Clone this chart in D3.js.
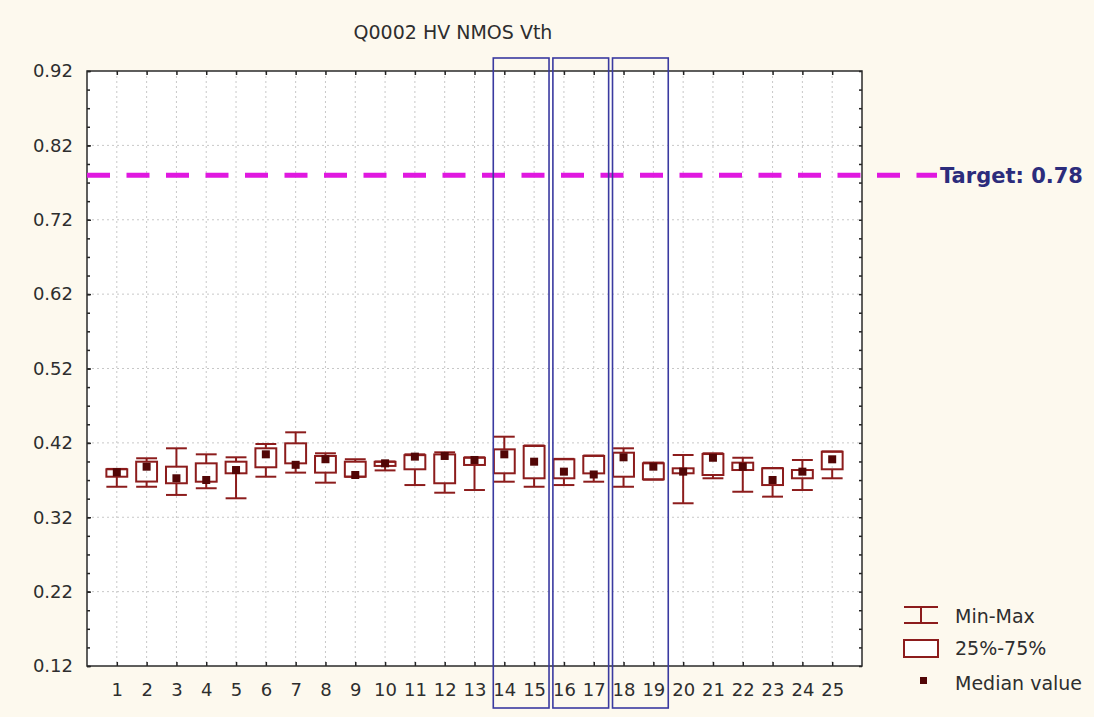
<!DOCTYPE html>
<html>
<head>
<meta charset="utf-8">
<script src="https://cdn.jsdelivr.net/npm/d3@7"></script>
<style>
  html, body { margin: 0; padding: 0; background: #fdf9ee; }
  svg { display: block; }
  .tick text { font-family: "DejaVu Sans", sans-serif; fill: #2e2e2e; }
</style>
</head>
<body>
<svg id="chart" width="1094" height="717"></svg>
<script>
// Wafer sites along the x axis
const sites = d3.range(1, 26);

// Box statistics per site (V)
const minVals    = [0.361, 0.361, 0.350, 0.359, 0.3455, 0.3745, 0.380, 0.3665, 0.3745, 0.383, 0.3633, 0.353, 0.3566, 0.3678, 0.361, 0.3633, 0.3678, 0.361, 0.3705, 0.3388, 0.3724, 0.3543, 0.3477, 0.3566, 0.3724];
const q1Vals     = [0.3745, 0.368, 0.3657, 0.3678, 0.3791, 0.3872, 0.3925, 0.380, 0.3745, 0.389, 0.3845, 0.3657, 0.3903, 0.3791, 0.3724, 0.3724, 0.379, 0.3745, 0.371, 0.3791, 0.3768, 0.3835, 0.3633, 0.3724, 0.3845];
const medianVals = [0.3805, 0.388, 0.3724, 0.3701, 0.3835, 0.4046, 0.3905, 0.398, 0.3768, 0.3925, 0.4015, 0.4024, 0.397, 0.4046, 0.3947, 0.3813, 0.3775, 0.4006, 0.388, 0.3813, 0.400, 0.388, 0.3701, 0.3813, 0.3979];
const q3Vals     = [0.3845, 0.3947, 0.388, 0.3925, 0.3947, 0.4127, 0.4194, 0.4024, 0.3947, 0.3945, 0.4035, 0.4045, 0.400, 0.4113, 0.4158, 0.3979, 0.4024, 0.4068, 0.3925, 0.3858, 0.405, 0.3934, 0.3858, 0.3835, 0.4081];
const maxVals    = [0.385, 0.3993, 0.4127, 0.4046, 0.4006, 0.4185, 0.4342, 0.406, 0.398, 0.395, 0.4046, 0.4073, 0.4006, 0.4283, 0.4165, 0.3985, 0.403, 0.4127, 0.3935, 0.4037, 0.406, 0.400, 0.3862, 0.397, 0.4085];

// Y axis tick labels
const yTicks = [0.12, 0.22, 0.32, 0.42, 0.52, 0.62, 0.72, 0.82, 0.92];
const yMinorTicks = d3.range(0, 33).map(i => +(0.12 + i * 0.025).toFixed(3));

// Target specification
const targetValue = 0.78;
const targetLabel = "Target: 0.78";

// Highlighted site pairs
const highlightPairs = [[14, 15], [16, 17], [18, 19]];

const title = "Q0002 HV NMOS Vth";
const legendItems = ["Min-Max", "25%-75%", "Median value"];

const boxColor = "#8c1c1c";
const medianColor = "#520606";
const font = "'DejaVu Sans', sans-serif";

const svg = d3.select("#chart");
const plot = { left: 87, right: 862, top: 71, bottom: 666 };

const x = d3.scaleLinear().domain([0, 26]).range([plot.left, plot.right]);
const y = d3.scaleLinear().domain([0.12, 0.92]).range([plot.bottom, plot.top]);
const step = x(1) - x(0);

// Plot background
svg.append("rect")
  .attr("x", plot.left).attr("y", plot.top)
  .attr("width", plot.right - plot.left).attr("height", plot.bottom - plot.top)
  .attr("fill", "#ffffff");

// Dotted grid
const grid = svg.append("g").attr("stroke", "#c8c8c8").attr("stroke-width", 1).attr("stroke-dasharray", "2,3");
grid.selectAll("line.v").data(sites).join("line")
  .attr("x1", d => x(d)).attr("x2", d => x(d))
  .attr("y1", plot.top).attr("y2", plot.bottom);
grid.selectAll("line.h").data(yTicks.slice(1, -1)).join("line")
  .attr("x1", plot.left).attr("x2", plot.right)
  .attr("y1", d => y(d)).attr("y2", d => y(d));

// Axes (ticks point inward)
const axisLeft = svg.append("g").attr("transform", `translate(${plot.left},0)`)
  .call(d3.axisLeft(y).tickValues(yTicks).tickFormat(d3.format(".2f")).tickSize(-4).tickPadding(14));
axisLeft.selectAll("text").style("font-size", "18px");
svg.append("g").attr("transform", `translate(${plot.left},0)`)
  .call(d3.axisLeft(y).tickValues(yMinorTicks).tickFormat("").tickSize(-3));
svg.append("g").attr("transform", `translate(${plot.right},0)`)
  .call(d3.axisRight(y).tickValues(yMinorTicks).tickFormat("").tickSize(-3));

const axisBottom = svg.append("g").attr("transform", `translate(0,${plot.bottom})`)
  .call(d3.axisBottom(x).tickValues(sites).tickFormat(d3.format("d")).tickSize(-4).tickPadding(17));
axisBottom.selectAll("text").style("font-size", "18px");
svg.append("g").attr("transform", `translate(0,${plot.top})`)
  .call(d3.axisTop(x).tickValues(sites).tickFormat("").tickSize(-4));

svg.selectAll(".domain").remove();
svg.selectAll(".tick line").attr("stroke", "#222").attr("stroke-width", 1.5);

// Plot frame
svg.append("rect")
  .attr("x", plot.left).attr("y", plot.top)
  .attr("width", plot.right - plot.left).attr("height", plot.bottom - plot.top)
  .attr("fill", "none").attr("stroke", "#2a2a2a").attr("stroke-width", 1.5);

// Target line
svg.append("line")
  .attr("x1", x(0)).attr("x2", 937)
  .attr("y1", y(targetValue)).attr("y2", y(targetValue))
  .attr("stroke", "#e018e0").attr("stroke-width", 5)
  .attr("stroke-dasharray", "23,16.5");
svg.append("text")
  .attr("x", 940).attr("y", y(targetValue)).attr("dy", "0.36em")
  .attr("font-family", font).attr("font-weight", "bold").attr("font-size", 21)
  .attr("fill", "#2c2c7c").text(targetLabel);

// Box plots
const boxes = sites.map((s, i) => ({
  site: s, min: minVals[i], q1: q1Vals[i], med: medianVals[i], q3: q3Vals[i], max: maxVals[i]
}));
const bw = step * 0.7;
const g = svg.append("g").attr("stroke", boxColor).attr("stroke-width", 2).attr("fill", "none");
const bg = g.selectAll("g").data(boxes).join("g");
bg.append("line").attr("x1", d => x(d.site)).attr("x2", d => x(d.site))
  .attr("y1", d => y(d.max)).attr("y2", d => y(d.q3));
bg.append("line").attr("x1", d => x(d.site)).attr("x2", d => x(d.site))
  .attr("y1", d => y(d.q1)).attr("y2", d => y(d.min));
bg.append("line").attr("x1", d => x(d.site) - bw / 2).attr("x2", d => x(d.site) + bw / 2)
  .attr("y1", d => y(d.max)).attr("y2", d => y(d.max));
bg.append("line").attr("x1", d => x(d.site) - bw / 2).attr("x2", d => x(d.site) + bw / 2)
  .attr("y1", d => y(d.min)).attr("y2", d => y(d.min));
bg.append("rect").attr("x", d => x(d.site) - bw / 2).attr("width", bw)
  .attr("y", d => y(d.q3)).attr("height", d => y(d.q1) - y(d.q3));
svg.append("g").selectAll("rect").data(boxes).join("rect")
  .attr("x", d => x(d.site) - 4).attr("y", d => y(d.med) - 4)
  .attr("width", 8).attr("height", 8).attr("fill", medianColor);

// Highlight frames around site pairs
svg.append("g").selectAll("rect").data(highlightPairs).join("rect")
  .attr("x", d => x(d[0]) - step * 0.37)
  .attr("width", d => x(d[1]) + step * 0.5 - (x(d[0]) - step * 0.37))
  .attr("y", y(0.92) - 13).attr("height", y(0.12) + 42 - (y(0.92) - 13))
  .attr("fill", "none").attr("stroke", "#3a3aa0").attr("stroke-width", 1.6);

// Title
svg.append("text")
  .attr("x", 453).attr("y", 39).attr("text-anchor", "middle")
  .attr("font-family", font).attr("font-size", 19).attr("fill", "#2e2e2e")
  .text(title);

// Legend
const lg = svg.append("g");
lg.append("line").attr("x1", 904).attr("x2", 938).attr("y1", 607).attr("y2", 607).attr("stroke", boxColor).attr("stroke-width", 2);
lg.append("line").attr("x1", 904).attr("x2", 938).attr("y1", 623).attr("y2", 623).attr("stroke", boxColor).attr("stroke-width", 2);
lg.append("line").attr("x1", 921).attr("x2", 921).attr("y1", 607).attr("y2", 623).attr("stroke", boxColor).attr("stroke-width", 2);
lg.append("rect").attr("x", 904).attr("y", 640).attr("width", 34).attr("height", 17)
  .attr("fill", "#ffffff").attr("stroke", boxColor).attr("stroke-width", 2);
lg.append("rect").attr("x", 920).attr("y", 677).attr("width", 7).attr("height", 7).attr("fill", medianColor);
lg.selectAll("text").data(legendItems).join("text")
  .attr("x", 955).attr("y", (d, i) => [623, 655, 690][i])
  .attr("font-family", font).attr("font-size", 19).attr("fill", "#2e2e2e")
  .text(d => d);
</script>
</body>
</html>
